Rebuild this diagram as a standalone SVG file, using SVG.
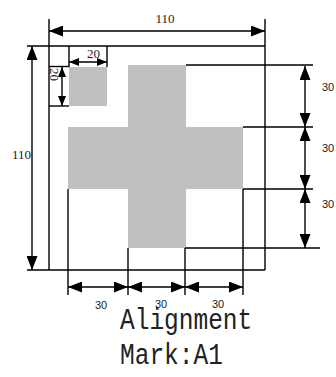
<svg xmlns="http://www.w3.org/2000/svg" width="336" height="377" viewBox="0 0 336 377">
<defs>
<marker id="ah" viewBox="0 0 14 11" refX="14" refY="5.5" markerWidth="14" markerHeight="11" markerUnits="userSpaceOnUse" orient="auto-start-reverse">
<path d="M0,0 L14,5.5 L0,11 Z" fill="#000"/>
</marker>
<marker id="as" viewBox="0 0 10 8" refX="10" refY="4" markerWidth="10" markerHeight="8" markerUnits="userSpaceOnUse" orient="auto-start-reverse">
<path d="M0,0 L10,4 L0,8 Z" fill="#000"/>
</marker>
<style>
.ln{stroke:#000;stroke-width:1.4;fill:none}
.dim{stroke:#000;stroke-width:1.4;fill:none;marker-start:url(#ah);marker-end:url(#ah)}
.dims{stroke:#000;stroke-width:1.4;fill:none;marker-start:url(#as);marker-end:url(#as)}
.gray{fill:#c0c0c0}
.ser{font-family:"Liberation Serif",serif;font-size:13px;fill:#222}
.san{font-family:"Liberation Sans",Arial,sans-serif;font-size:11px;fill:#222}
.mono{font-family:"Liberation Mono","Courier New",monospace;font-size:24.5px;fill:#222}
</style>
</defs>
<g id="shapes">
<rect class="gray" x="69" y="67" width="38" height="39"/>
<rect class="gray" x="128" y="65" width="58" height="183"/>
<rect class="gray" x="68" y="127" width="175" height="62"/>
</g>
<g id="connectors">
<line class="ln" x1="49" y1="19" x2="49" y2="270"/>
<line class="ln" x1="265" y1="19" x2="265" y2="270"/>
<line class="ln" x1="27" y1="46" x2="265" y2="46"/>
<line class="ln" x1="27" y1="270" x2="265" y2="270"/>
<line class="ln" x1="69" y1="46" x2="69" y2="67"/>
<line class="ln" x1="107" y1="46" x2="107" y2="67"/>
<line class="ln" x1="49" y1="66.5" x2="69" y2="66.5"/>
<line class="ln" x1="49" y1="106" x2="69" y2="106"/>
<line class="ln" x1="186" y1="65" x2="313" y2="65"/>
<line class="ln" x1="243" y1="127" x2="313" y2="127"/>
<line class="ln" x1="243" y1="189" x2="313" y2="189"/>
<line class="ln" x1="185" y1="248" x2="320" y2="248"/>
<line class="ln" x1="68" y1="189" x2="68" y2="295"/>
<line class="ln" x1="128" y1="248" x2="128" y2="295"/>
<line class="ln" x1="185" y1="248" x2="185" y2="295"/>
<line class="ln" x1="243" y1="189" x2="243" y2="295"/>
<line class="dim" x1="49" y1="31" x2="265" y2="31"/>
<line class="dim" x1="32" y1="46" x2="32" y2="270"/>
<line class="dims" x1="69" y1="62" x2="107" y2="62"/>
<line class="dims" x1="62" y1="67" x2="62" y2="106"/>
<line class="dim" x1="305" y1="66" x2="305" y2="127"/>
<line class="dim" x1="305" y1="127" x2="305" y2="189"/>
<line class="dim" x1="305" y1="189" x2="305" y2="248"/>
<line class="dim" x1="68" y1="287" x2="128" y2="287"/>
<line class="dim" x1="128" y1="287" x2="185" y2="287"/>
<line class="dim" x1="185" y1="287" x2="243" y2="287"/>
</g>
<g id="labels">
<text class="ser" x="155.5" y="23">110</text>
<text class="ser" x="12" y="159">110</text>
<text class="ser" x="87" y="58">20</text>
<text class="ser" transform="translate(50,68) rotate(90)">20</text>
<text class="san" x="322" y="91">30</text>
<text class="san" x="322" y="152">30</text>
<text class="san" x="322" y="208">30</text>
<text class="san" x="95" y="309">30</text>
<text class="san" x="155" y="308">30</text>
<text class="san" x="212" y="308">30</text>
<text class="mono" transform="translate(120,329) scale(1,1.2)">Alignment</text>
<text class="mono" transform="translate(120,364) scale(1,1.2)">Mark:A1</text>
</g>
</svg>
